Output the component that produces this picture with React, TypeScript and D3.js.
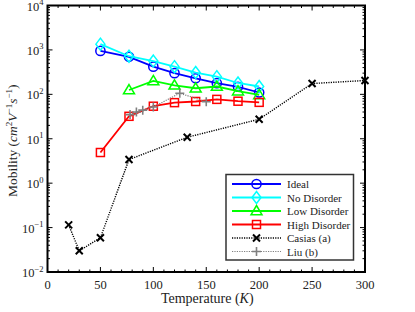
import * as d3 from 'd3';

// temperatures (K) and mobility values
const simTemps = [50, 77, 100, 120, 140, 160, 180, 200];
const idealVals = [950, 700, 420, 300, 230, 178, 148, 110];
const noDisorderVals = [1350, 720, 560, 420, 310, 250, 180, 150];
const lowTemps = [77, 100, 120, 140, 160, 180, 200];
const lowDisorderVals = [125, 200, 160, 137, 150, 118, 97];
const highDisorderVals = [4.9, 32, 54, 65, 69, 77, 70, 66];
const casiasTemps = [20, 30, 50, 77, 132, 200, 250, 300];
const casiasVals = [0.115, 0.03, 0.059, 3.4, 10.8, 27.5, 175, 205];
const liuTemps = [78, 84, 90, 100, 125, 150];
const liuVals = [35, 40, 44, 52, 106, 68];

const xTicks = [0, 50, 100, 150, 200, 250, 300];
const yExps = [-2, -1, 0, 1, 2, 3, 4];

type Marker = 'circle' | 'diamond' | 'triangle' | 'square' | 'x' | 'plus';

interface Series {
  name: string;
  temps: number[];
  vals: number[];
  color: string;
  marker: Marker;
  dash?: string;
  width: number;
}

const series: Series[] = [
  { name: 'Ideal', temps: simTemps, vals: idealVals, color: '#0000ff', marker: 'circle', width: 1.8 },
  { name: 'No Disorder', temps: simTemps, vals: noDisorderVals, color: '#00ffff', marker: 'diamond', width: 1.8 },
  { name: 'Low Disorder', temps: lowTemps, vals: lowDisorderVals, color: '#00ff00', marker: 'triangle', width: 1.8 },
  { name: 'High Disorder', temps: simTemps, vals: highDisorderVals, color: '#ff0000', marker: 'square', width: 1.8 },
  { name: 'Casias (a)', temps: casiasTemps, vals: casiasVals, color: '#000000', marker: 'x', dash: '1.2 1.2', width: 1.4 },
  { name: 'Liu (b)', temps: liuTemps, vals: liuVals, color: '#808080', marker: 'plus', dash: '1.2 1.2', width: 1.2 },
];

const W = 415;
const H = 312;
const left = 47.5;
const right = 365;
const top = 5.5;
const bottom = 272;

function MarkerShape({ type, x, y, color }: { type: Marker; x: number; y: number; color: string }) {
  const sw = 1.5;
  switch (type) {
    case 'circle':
      return <circle cx={x} cy={y} r={4.6} fill="none" stroke={color} strokeWidth={sw} />;
    case 'diamond':
      return (
        <path d={`M${x},${y - 6}L${x + 4.5},${y}L${x},${y + 6}L${x - 4.5},${y}Z`} fill="none" stroke={color} strokeWidth={sw} />
      );
    case 'triangle':
      return (
        <path d={`M${x},${y - 5.5}L${x + 5.5},${y + 3.8}L${x - 5.5},${y + 3.8}Z`} fill="none" stroke={color} strokeWidth={sw} />
      );
    case 'square':
      return <rect x={x - 4} y={y - 4} width={8} height={8} fill="none" stroke={color} strokeWidth={sw} />;
    case 'x':
      return (
        <path d={`M${x - 3.5},${y - 3.5}L${x + 3.5},${y + 3.5}M${x - 3.5},${y + 3.5}L${x + 3.5},${y - 3.5}`} stroke={color} strokeWidth={2} />
      );
    case 'plus':
      return <path d={`M${x - 4.5},${y}L${x + 4.5},${y}M${x},${y - 4.5}L${x},${y + 4.5}`} stroke={color} strokeWidth={1.6} />;
  }
}

export default function App() {
  const x = d3.scaleLinear().domain([0, 300]).range([left, right]);
  const y = d3.scaleLog().domain([1e-2, 1e4]).range([bottom, top]);

  const xMinor = d3.range(0, 301, 10).filter((t) => t % 50 !== 0);
  const yMinor: number[] = [];
  for (let e = -2; e < 4; e++) for (let m = 2; m <= 9; m++) yMinor.push(m * Math.pow(10, e));

  const font = '"Liberation Serif", "DejaVu Serif", serif';

  const legendX = 226;
  const legendY = 174.5;
  const legendW = 127.5;
  const legendH = 85.5;
  const rowH = 13.5;

  return (
    <svg width={W} height={H} style={{ position: 'absolute', left: 0, top: 0, background: '#fff' }} fontFamily={font}>
      <rect width={W} height={H} fill="#fff" />

      {/* series */}
      {series.map((s) => {
        const pts = s.temps.map((t, i) => [x(t), y(s.vals[i])] as [number, number]);
        const line = d3.line()(pts) || '';
        return (
          <g key={s.name}>
            <path d={line} fill="none" stroke={s.color} strokeWidth={s.width} strokeDasharray={s.dash} />
            {pts.map(([px, py], i) => (
              <MarkerShape key={i} type={s.marker} x={px} y={py} color={s.color} />
            ))}
          </g>
        );
      })}

      {/* ticks */}
      <g stroke="#000" strokeWidth={1}>
        {xTicks.map((t) => (
          <g key={'xt' + t}>
            <line x1={x(t)} x2={x(t)} y1={bottom} y2={bottom - 5} />
            <line x1={x(t)} x2={x(t)} y1={top} y2={top + 5} />
          </g>
        ))}
        {xMinor.map((t) => (
          <g key={'xm' + t}>
            <line x1={x(t)} x2={x(t)} y1={bottom} y2={bottom - 2.5} />
            <line x1={x(t)} x2={x(t)} y1={top} y2={top + 2.5} />
          </g>
        ))}
        {yExps.map((e) => (
          <g key={'yt' + e}>
            <line x1={left} x2={left + 5} y1={y(Math.pow(10, e))} y2={y(Math.pow(10, e))} />
            <line x1={right} x2={right - 5} y1={y(Math.pow(10, e))} y2={y(Math.pow(10, e))} />
          </g>
        ))}
        {yMinor.map((v, i) => (
          <g key={'ym' + i}>
            <line x1={left} x2={left + 2.5} y1={y(v)} y2={y(v)} />
            <line x1={right} x2={right - 2.5} y1={y(v)} y2={y(v)} />
          </g>
        ))}
      </g>

      {/* frame */}
      <rect x={left} y={top} width={right - left} height={bottom - top} fill="none" stroke="#000" strokeWidth={2} />

      {/* tick labels */}
      {xTicks.map((t) => (
        <text key={'xl' + t} x={x(t)} y={bottom + 17} textAnchor="middle" fontSize={12.5} fill="#222">
          {t}
        </text>
      ))}
      {yExps.map((e) => (
        <text key={'yl' + e} x={left - 4} y={y(Math.pow(10, e)) + 5} textAnchor="end" fontSize={12.5} fill="#222">
          10
          <tspan dy={-5.5} fontSize={8.5}>
            {e < 0 ? '\u2212' + Math.abs(e) : e}
          </tspan>
        </text>
      ))}

      {/* axis labels */}
      <text x={(left + right) / 2 + 1} y={303} textAnchor="middle" fontSize={14} fill="#222">
        Temperature (<tspan fontStyle="italic">K</tspan>)
      </text>
      <text
        transform={`translate(17,${(top + bottom) / 2 + 2}) rotate(-90)`}
        textAnchor="middle"
        fontSize={13.5}
        fill="#222"
      >
        Mobility (<tspan fontStyle="italic">cm</tspan>
        <tspan dy={-5} fontSize={9}>2</tspan>
        <tspan dy={5} fontStyle="italic">V</tspan>
        <tspan dy={-5} fontSize={9}>{'\u22121'}</tspan>
        <tspan dy={5} fontStyle="italic">s</tspan>
        <tspan dy={-5} fontSize={9}>{'\u22121'}</tspan>
        <tspan dy={5}>)</tspan>
      </text>

      {/* legend */}
      <rect x={legendX} y={legendY} width={legendW} height={legendH} fill="#fff" stroke="#333" strokeWidth={1.5} />
      {series.map((s, i) => {
        const cy = legendY + 9.5 + i * rowH;
        return (
          <g key={'lg' + s.name}>
            <line x1={legendX + 6} x2={legendX + 55} y1={cy} y2={cy} stroke={s.color} strokeWidth={s.width} strokeDasharray={s.dash} />
            <MarkerShape type={s.marker} x={legendX + 30.5} y={cy} color={s.color} />
            <text x={legendX + 61} y={cy + 4} fontSize={11} fill="#222">
              {s.name}
            </text>
          </g>
        );
      })}
    </svg>
  );
}
